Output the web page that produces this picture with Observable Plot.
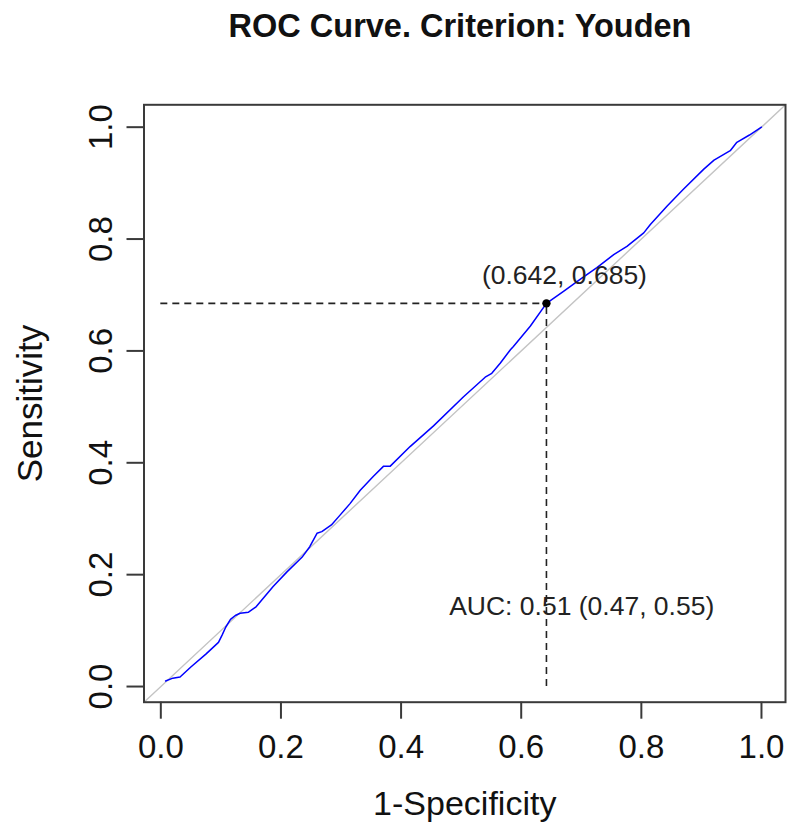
<!DOCTYPE html>
<html>
<head>
<meta charset="utf-8">
<script src="https://cdn.jsdelivr.net/npm/d3@7"></script>
<script src="https://cdn.jsdelivr.net/npm/@observablehq/plot@0.6"></script>
<style>
  html, body { margin: 0; padding: 0; background: #fff; }
  #title {
    width: 788px; height: 60px; box-sizing: border-box; padding-left: 132px;
    text-align: center; font-family: "Liberation Sans", Arial, sans-serif;
    font-weight: bold; font-size: 32.5px; line-height: 52px; color: #111;
  }
</style>
</head>
<body>
<div id="title">ROC Curve. Criterion: Youden</div>
<div id="chart"></div>
<script>
// ROC curve points (1-Specificity, Sensitivity)
const fpr = [0.008, 0.020, 0.032, 0.050, 0.075, 0.096, 0.102, 0.108, 0.116, 0.124,
  0.132, 0.146, 0.159, 0.187, 0.210, 0.235, 0.248, 0.260, 0.268, 0.284,
  0.298, 0.315, 0.332, 0.354, 0.371, 0.382, 0.415, 0.454, 0.504, 0.540,
  0.551, 0.565, 0.582, 0.587, 0.615, 0.642, 0.671, 0.698, 0.726, 0.754,
  0.776, 0.804, 0.815, 0.843, 0.870, 0.904, 0.921, 0.948, 0.959, 0.980, 1.000];
const tpr = [0.010, 0.015, 0.017, 0.035, 0.058, 0.079, 0.092, 0.106, 0.120, 0.127,
  0.131, 0.133, 0.143, 0.179, 0.205, 0.231, 0.250, 0.274, 0.277, 0.289,
  0.306, 0.327, 0.351, 0.376, 0.394, 0.394, 0.429, 0.466, 0.518, 0.553,
  0.560, 0.578, 0.602, 0.608, 0.644, 0.685, 0.707, 0.728, 0.749, 0.772,
  0.787, 0.811, 0.826, 0.859, 0.889, 0.925, 0.941, 0.958, 0.973, 0.986, 1.000];

// Optimal (Youden) threshold point
const optX = [0.642];
const optY = [0.685];
const optLabel = ["(0.642, 0.685)"];
const aucLabel = ["AUC: 0.51 (0.47, 0.55)"];

// Axes
const xTicks = [0, 0.2, 0.4, 0.6, 0.8, 1.0];
const yTicks = [0, 0.2, 0.4, 0.6, 0.8, 1.0];
const xLabel = "1-Specificity";
const yLabel = "Sensitivity";
const domain = [-0.028, 1.04];

const curve = fpr.map((x, i) => ({x, y: tpr[i]}));
const opt = optX.map((x, i) => ({x, y: optY[i], label: optLabel[i]}));

const font = "'Liberation Sans', Arial, sans-serif";
const ink = "#3a3a3a";

const chart = Plot.plot({
  width: 788,
  height: 764,
  marginLeft: 143.5,
  marginRight: 3,
  marginTop: 44.3,
  marginBottom: 122.3,
  style: {fontFamily: font, fontSize: "33px", color: "#111", background: "#fff", overflow: "visible"},
  x: {domain, axis: null},
  y: {domain, axis: null},
  marks: [
    // diagonal reference
    Plot.line(domain, {x: d => d, y: d => d, stroke: "#c4c4c4", strokeWidth: 1.4}),
    // dashed guides to optimal point
    Plot.ruleY(opt, {y: "y", x1: 0, x2: "x", stroke: "#222", strokeWidth: 1.6, strokeDasharray: "7,5"}),
    Plot.ruleX(opt, {x: "x", y1: 0, y2: "y", stroke: "#222", strokeWidth: 1.6, strokeDasharray: "7,5"}),
    // ROC curve
    Plot.line(curve, {x: "x", y: "y", stroke: "#0000ff", strokeWidth: 1.5}),
    Plot.dot(opt, {x: "x", y: "y", r: 4.2, fill: "#000", stroke: null}),
    Plot.text(opt, {x: "x", y: "y", text: "label", dx: 18, dy: -28, fontSize: 26.5, fill: "#222"}),
    Plot.text(aucLabel, {x: () => 0.48, y: () => 0.143, text: d => d, textAnchor: "start", fontSize: 26.5, fill: "#222"}),
    // frame & ticks
    Plot.frame({stroke: ink, strokeWidth: 2}),
    Plot.axisX({ticks: xTicks, tickSize: 17, tickFormat: () => "", stroke: ink, strokeWidth: 2, label: null}),
    Plot.axisY({ticks: yTicks, tickSize: 17, tickFormat: () => "", stroke: ink, strokeWidth: 2, label: null}),
    // tick labels
    Plot.text(xTicks, {x: d => d, frameAnchor: "bottom", dy: 45, text: d => d.toFixed(1), fontSize: 33, lineAnchor: "middle", fill: "#111"}),
    Plot.text(yTicks, {y: d => d, frameAnchor: "left", dx: -43, rotate: -90, text: d => d.toFixed(1), fontSize: 33, textAnchor: "middle", lineAnchor: "middle", fill: "#111"}),
    // axis titles
    Plot.text([xLabel], {frameAnchor: "bottom", dy: 102, text: d => d, fontSize: 34, lineAnchor: "middle", fill: "#111"}),
    Plot.text([yLabel], {frameAnchor: "left", dx: -113, rotate: -90, text: d => d, fontSize: 35, textAnchor: "middle", lineAnchor: "middle", fill: "#111"})
  ]
});
document.getElementById("chart").appendChild(chart);
</script>
</body>
</html>
